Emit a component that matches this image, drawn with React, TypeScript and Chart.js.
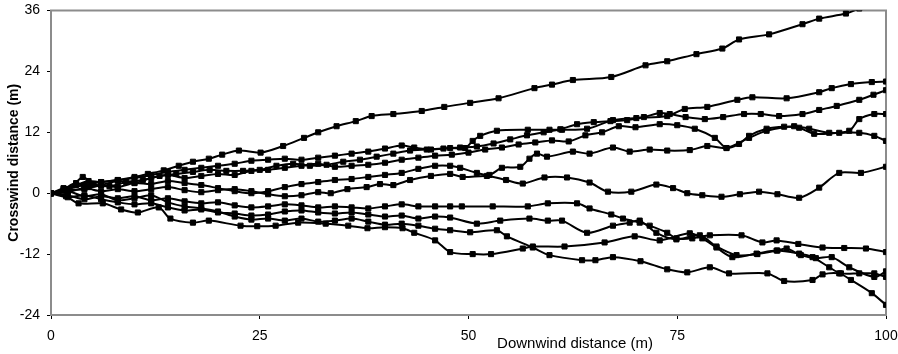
import React, { useEffect, useRef } from "react";
import { Chart, registerables } from "chart.js";

Chart.register(...registerables);

// ---- data: [downwind distance (m), crosswind distance (m)] ----
const trackA: [number, number][] = [[0,0],[2,0.8],[4,1.6],[6,2.2],[8,2.6],[10,3.2],[11.6,3.8],[13.5,4.5],[15.3,5.4],[17,6.2],[18.9,6.8],[20.5,7.6],[22.5,8.4],[25.1,8.0],[27.8,9.3],[30.3,10.9],[32,12.0],[34.2,13.2],[36.5,14.2],[38.4,15.2],[41,15.6],[44.4,16.2],[47.1,17.0],[50.2,17.8],[53.6,18.7],[57.9,20.7],[60,21.4],[62.5,22.3],[67.1,22.9],[71.2,25.2],[73.8,26.0],[77.3,27.4],[80.4,28.5],[82.4,30.3],[86,31.3],[90,33.3],[92,34.4],[95.2,35.4],[96.8,36.4]];
const trackB: [number, number][] = [[0,0],[1.5,1.0],[3,1.6],[4.5,2.4],[6,2.2],[8,2.6],[10,3.0],[12,3.6],[14,4.2],[16,4.6],[18,5.0],[20,5.4],[22,5.8],[24,6.4],[26,6.6],[28,6.8],[30,6.6],[32,7.0],[34,7.4],[36,7.8],[38,8.2],[40,8.8],[42,9.4],[43.5,9.0],[45.5,8.6],[47.8,8.9],[49.6,8.9],[50.5,10.3],[51.4,11.3],[53.4,12.3],[57.1,12.5],[59.7,12.5],[61.2,12.5],[64.2,12.7],[67.3,14.4],[70.1,14.8],[73.8,15.2],[75.9,16.6],[78.6,17.0],[82.2,18.4],[84,18.9],[88.1,18.7],[92,19.9],[93.5,20.7],[95.8,21.5],[98.3,21.9],[100,22]];
const trackC: [number, number][] = [[0,0],[2,0.5],[3.8,3.2],[5,1.8],[7,1.4],[9,2.2],[11,2.6],[13,3.4],[15,3.8],[17,4.2],[19,4.6],[21,4.4],[23,4.4],[25,4.6],[27,5.4],[29,5.8],[31,5.4],[33,5.6],[35,6.2],[37,6.6],[39,7.2],[41,7.8],[43,8.4],[45,8.6],[47,8.8],[49,9.0],[51,9.2],[53,9.8],[55,10.6],[57,11.4],[59,12.0],[61,12.6],[63,13.6],[65,14.0],[67,14.2],[69,14.4],[71,15.0],[72.9,15.8],[74.1,15.6],[76,15.0],[78.3,14.6],[80.5,15.0],[83,15.6],[85,15.6],[87.2,15.2],[90,15.6],[92,16.4],[94.1,17.2],[96.8,18.4],[98.5,19.4],[100,20.3]];
const trackD: [number, number][] = [[0,0],[2,0.6],[4,0.8],[6,1.6],[8,1.2],[10,2.0],[12,1.8],[14,2.4],[16,2.0],[18,1.6],[20,1.0],[22,0.4],[24,0.0],[26,0.4],[28,1.2],[30,1.8],[32,2.2],[34,2.6],[36,2.8],[38,3.2],[40,3.6],[42,4.0],[44,4.8],[46,5.4],[47.8,5.4],[49,5.0],[51,4.0],[52.5,3.6],[54,5.0],[56.2,5.2],[57.3,6.8],[58.2,7.8],[59.4,7.2],[62.5,8.2],[64.5,7.8],[67.3,9.0],[69.3,8.2],[71.7,8.6],[73.8,8.4],[76.5,8.5],[78.6,9.3],[80.9,8.9],[83.6,10.9],[85.7,12.3],[89,13.2],[90.8,12.7],[93.2,11.9],[95.6,12.3],[96.8,14.6],[98.6,15.6],[100,15.6]];
const trackE: [number, number][] = [[0,0],[1.5,0.8],[3,2.0],[4.5,1.2],[6,1.6],[8,2.4],[10,2.0],[12,3.0],[14,3.6],[16,3.0],[18,3.4],[20,3.8],[22,3.6],[24,4.4],[26,4.6],[28,5.0],[30,5.4],[32,5.8],[34,5.2],[36,5.4],[38,5.6],[40,6.0],[42,6.6],[44,7.0],[46,7.4],[48,7.6],[50,8.0],[52,8.6],[54,9.0],[56,9.6],[58,10.0],[60,10.4],[62,10.2],[64,11.4],[66,12.0],[68,13.2],[70,13.0],[72.9,13.6],[75,13.4],[77.1,12.7],[79.5,10.9],[80.9,8.9],[82.4,9.7],[83.6,11.3],[85.7,12.7],[87.8,13.1],[89.6,12.9],[91.4,11.7],[94.4,11.9],[96.8,11.9],[98.6,11.3],[100,10.3]];
const trackF: [number, number][] = [[0,0],[2,0.2],[4,1.0],[6,0.4],[8,0.8],[10,0.4],[12,0.8],[14,1.2],[16,0.6],[18,0.2],[20,0.6],[22,0.8],[24,0.4],[26,-0.2],[28,-0.6],[30,-0.4],[32,0.2],[33.5,0],[35.5,0.8],[37.8,1.2],[39.4,1.8],[41,1.6],[43,2.6],[45.5,3.4],[47.8,3.8],[49.3,3.2],[52.2,3.4],[54.5,2.6],[56.5,1.9],[59.1,3.1],[61.8,3.1],[64.5,2.1],[66.7,0.3],[69.5,0.3],[72.5,1.7],[74.5,1.0],[76.2,0],[78,-0.4],[80.3,-0.7],[82.5,-0.2],[84.8,0.3],[87,-0.2],[89.6,-0.9],[92,1.1],[94.4,4.0],[97,4.0],[100,5.2]];
const trackG: [number, number][] = [[0,0],[2,-0.4],[4,-1.2],[6,-0.6],[8,-1.0],[10,-0.6],[12,-1.4],[14,-1.0],[16,-1.6],[18,-2.0],[20,-1.8],[22,-2.4],[24,-2.8],[26,-2.6],[28,-2.2],[30,-2.4],[32,-2.8],[34,-2.6],[36,-2.8],[38,-3.0],[40,-2.6],[42,-2.2],[44,-2.6],[46,-2.6],[47.8,-2.6],[49.2,-2.6],[52.9,-2.6],[57.1,-2.6],[59.5,-2.0],[63,-2.0],[64.5,-3.0],[67.1,-4.2],[68.5,-5.0],[70.5,-5.8],[71.7,-6.4],[73.8,-7.8],[74.9,-8.9],[76.8,-8.9],[78.9,-8.3],[82.7,-8.3],[85.2,-9.7],[86.9,-9.3],[89.5,-10.0],[92.4,-10.7],[95,-10.8],[97.6,-10.9],[100,-11.6]];
const trackH: [number, number][] = [[0,0],[2,-0.8],[4,-0.4],[6,-1.2],[8,-1.8],[10,-2.2],[12,-2.0],[14,-2.8],[16,-3.4],[18,-3.2],[20,-3.8],[22,-4.0],[24,-4.4],[26,-4.2],[28,-3.6],[30,-3.4],[32,-3.8],[34,-4.0],[36,-3.8],[38,-4.2],[40,-4.6],[42,-4.4],[44,-5.0],[46,-4.6],[47.8,-4.8],[51,-6.0],[53.8,-5.4],[57.3,-5.0],[59.5,-5.4],[61.2,-5.4],[64.2,-7.8],[67.3,-6.4],[69.3,-5.8],[70.5,-5.4],[72.5,-7.8],[74.9,-9.1],[77.7,-8.3],[79.7,-10.5],[82.1,-12.2],[84.6,-12.0],[87,-11.3],[88.1,-10.9],[89.8,-12.2],[91.6,-12.8],[93.5,-12.6],[95.6,-14.6],[98.6,-16.5],[100,-15.4]];
const trackI: [number, number][] = [[0,0],[2,0.4],[4,-0.6],[6,-0.2],[8,-1.4],[10,-1.0],[12,-0.4],[14,-1.8],[16,-2.6],[18,-3.0],[20,-3.6],[22,-4.6],[24,-5.2],[26,-5.0],[28,-5.4],[30,-5.0],[32,-5.6],[34,-5.4],[36,-5.0],[38,-5.6],[40,-6.2],[42,-6.0],[44,-6.4],[46,-7.0],[47.8,-7.3],[50.2,-7.7],[53.4,-7.3],[54.6,-8.5],[57.7,-10.7],[59.7,-12.2],[63.6,-13.2],[65.2,-13.2],[67.3,-12.6],[70.6,-13.4],[73.8,-15.0],[76.2,-15.6],[78.9,-14.6],[81.2,-15.8],[85.8,-15.8],[87.8,-17.3],[91.2,-17.1],[92.4,-16.0],[94.4,-15.8],[95.8,-17.1],[98.3,-19.7],[100,-22.0]];
const trackJ: [number, number][] = [[0,0],[1.8,-0.6],[3.3,-2.0],[6.2,-2.0],[8.4,-3.2],[10.4,-3.8],[12.9,-2.8],[14.3,-5.0],[17,-5.8],[18.9,-5.4],[22.7,-6.4],[24.7,-6.5],[26.9,-6.4],[29.6,-5.8],[32.9,-6.0],[35.6,-6.4],[37.9,-6.9],[40,-6.7],[42.1,-6.9],[43.5,-7.8],[46,-9.3],[47.8,-11.6],[50.5,-12.0],[52.7,-12.0],[56.5,-10.9],[57.7,-10.5],[61.5,-10.5],[66.3,-9.7],[69.9,-8.5],[72.9,-9.3],[76.5,-7.9],[78,-8.9],[79.7,-10.7],[81.6,-12.6],[84.5,-11.9],[86.9,-11.3],[89.6,-11.9],[91.2,-12.6],[93.2,-14.6],[94.6,-15.8],[96.8,-15.8],[98.6,-15.8],[100,-16.5]];

const tracks = [trackA, trackB, trackC, trackD, trackE, trackF, trackG, trackH, trackI, trackJ];

const xTickValues = [0, 25, 50, 75, 100];
const yTickValues = [-24, -12, 0, 12, 24, 36];
const xTitle = "Downwind distance (m)";
const yTitle = "Crosswind distance (m)";

const FONT = "Arial, 'Liberation Sans', sans-serif";

const framePlugin = {
  id: "frame",
  beforeDatasetsDraw(chart: any) {
    const { ctx, chartArea } = chart;
    ctx.save();
    ctx.strokeStyle = "#8c8c8c";
    ctx.lineWidth = 2;
    ctx.strokeRect(chartArea.left, chartArea.top, chartArea.right - chartArea.left, chartArea.bottom - chartArea.top);
    ctx.restore();
  },
  afterDraw(chart: any) {
    const { ctx, chartArea } = chart;
    ctx.save();
    ctx.fillStyle = "#000";
    ctx.textAlign = "center";
    ctx.textBaseline = "middle";
    ctx.font = `15px ${FONT}`;
    ctx.fillText(xTitle, 575, 344);
    ctx.translate(14, (chartArea.top + chartArea.bottom) / 2);
    ctx.rotate(-Math.PI / 2);
    ctx.font = `bold 14px ${FONT}`;
    ctx.fillText(yTitle, 0, 0);
    ctx.restore();
  },
};

const noPad = (s: any) => {
  s.paddingLeft = 0;
  s.paddingRight = 0;
  s.paddingTop = 0;
  s.paddingBottom = 0;
};

export default function App() {
  const ref = useRef<HTMLCanvasElement | null>(null);
  useEffect(() => {
    document.body.style.margin = "0";
    if (!ref.current) return;
    const chart = new Chart(ref.current, {
      type: "line",
      data: {
        datasets: tracks.map((t, i) => ({
          label: "track " + (i + 1),
          data: t.map(([x, y]) => ({ x, y })),
          borderColor: "#000",
          backgroundColor: "#000",
          borderWidth: 2,
          pointStyle: "rect",
          pointRadius: 3.6,
          pointBorderWidth: 1,
          pointBackgroundColor: "#000",
          pointBorderColor: "#000",
          tension: 0.3,
          fill: false,
        })),
      },
      options: {
        animation: false,
        responsive: false,
        events: [],
        layout: { padding: { top: 10.5, right: 12, bottom: 0, left: 0 } },
        plugins: { legend: { display: false }, tooltip: { enabled: false } },
        scales: {
          x: {
            type: "linear",
            min: 0,
            max: 100,
            afterBuildTicks: (s: any) => { s.ticks = xTickValues.map((v) => ({ value: v })); },
            afterFit: (s: any) => { s.height = 39; noPad(s); },
            ticks: { color: "#000", font: { size: 14, family: FONT }, padding: 9, maxRotation: 0 },
            grid: { drawOnChartArea: false, drawTicks: true, tickLength: 4, color: "#000" },
            border: { display: true, color: "#8c8c8c", width: 2 },
          },
          y: {
            type: "linear",
            min: -24,
            max: 36,
            afterBuildTicks: (s: any) => { s.ticks = yTickValues.map((v) => ({ value: v })); },
            afterFit: (s: any) => { s.width = 51; noPad(s); },
            ticks: { color: "#000", font: { size: 14, family: FONT }, padding: 7 },
            grid: { drawOnChartArea: false, drawTicks: true, tickLength: 4, color: "#000" },
            border: { display: true, color: "#8c8c8c", width: 2 },
          },
        },
      },
      plugins: [framePlugin],
    });
    return () => chart.destroy();
  }, []);
  return (
    <div style={{ position: "absolute", left: 0, top: 0, width: 898, height: 354 }}>
      <canvas ref={ref} width={898} height={354} style={{ width: 898, height: 354 }} />
    </div>
  );
}
